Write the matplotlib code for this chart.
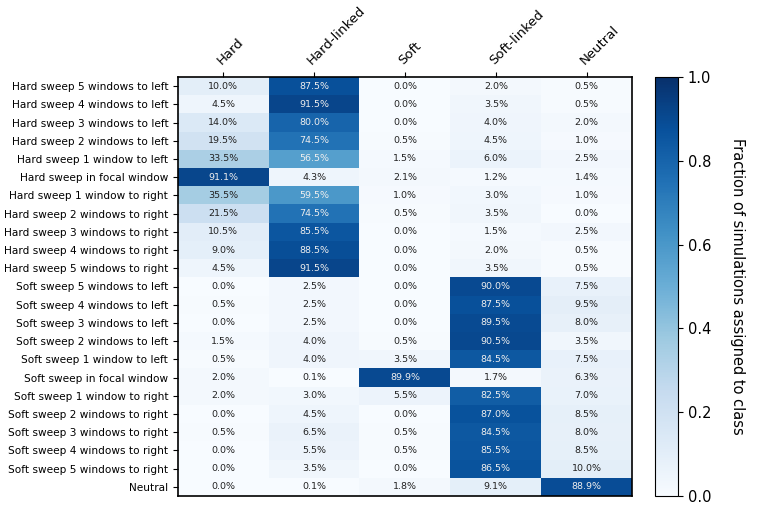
import matplotlib
matplotlib.use("Agg")
import matplotlib.pyplot as plt
import numpy as np

row_labels = [
    "Hard sweep 5 windows to left", "Hard sweep 4 windows to left",
    "Hard sweep 3 windows to left", "Hard sweep 2 windows to left",
    "Hard sweep 1 window to left", "Hard sweep in focal window",
    "Hard sweep 1 window to right", "Hard sweep 2 windows to right",
    "Hard sweep 3 windows to right", "Hard sweep 4 windows to right",
    "Hard sweep 5 windows to right",
    "Soft sweep 5 windows to left", "Soft sweep 4 windows to left",
    "Soft sweep 3 windows to left", "Soft sweep 2 windows to left",
    "Soft sweep 1 window to left", "Soft sweep in focal window",
    "Soft sweep 1 window to right", "Soft sweep 2 windows to right",
    "Soft sweep 3 windows to right", "Soft sweep 4 windows to right",
    "Soft sweep 5 windows to right", "Neutral",
]
col_labels = ["Hard", "Hard-linked", "Soft", "Soft-linked", "Neutral"]

hard = [10.0, 4.5, 14.0, 19.5, 33.5, 91.1, 35.5, 21.5, 10.5, 9.0, 4.5,
        0.0, 0.5, 0.0, 1.5, 0.5, 2.0, 2.0, 0.0, 0.5, 0.0, 0.0, 0.0]
hard_linked = [87.5, 91.5, 80.0, 74.5, 56.5, 4.3, 59.5, 74.5, 85.5, 88.5, 91.5,
               2.5, 2.5, 2.5, 4.0, 4.0, 0.1, 3.0, 4.5, 6.5, 5.5, 3.5, 0.1]
soft = [0.0, 0.0, 0.0, 0.5, 1.5, 2.1, 1.0, 0.5, 0.0, 0.0, 0.0,
        0.0, 0.0, 0.0, 0.5, 3.5, 89.9, 5.5, 0.0, 0.5, 0.5, 0.0, 1.8]
soft_linked = [2.0, 3.5, 4.0, 4.5, 6.0, 1.2, 3.0, 3.5, 1.5, 2.0, 3.5,
               90.0, 87.5, 89.5, 90.5, 84.5, 1.7, 82.5, 87.0, 84.5, 85.5, 86.5, 9.1]
neutral = [0.5, 0.5, 2.0, 1.0, 2.5, 1.4, 1.0, 0.0, 2.5, 0.5, 0.5,
           7.5, 9.5, 8.0, 3.5, 7.5, 6.3, 7.0, 8.5, 8.0, 8.5, 10.0, 88.9]

data = np.array([hard, hard_linked, soft, soft_linked, neutral]).T / 100.0

fig = plt.figure(figsize=(7.57, 5.16), dpi=100)
ax = fig.add_axes([178/757, 1 - 496/516, (632-178)/757, (496-77)/516])
cax = fig.add_axes([655/757, 1 - 496/516, (678-655)/757, (496-77)/516])

im = ax.imshow(data, cmap="Blues", vmin=0, vmax=1, aspect="auto",
               interpolation="nearest")
ax.xaxis.tick_top()
ax.set_xticks(range(len(col_labels)))
ax.set_xticklabels(col_labels, rotation=45, ha="left", rotation_mode="anchor",
                   fontsize=9.5)
ax.set_yticks(range(len(row_labels)))
ax.set_yticklabels(row_labels, fontsize=7.6)
ax.tick_params(length=3.5)
for s in ax.spines.values():
    s.set_linewidth(1.2)

for i in range(data.shape[0]):
    for j in range(data.shape[1]):
        v = data[i, j]
        ax.text(j, i, f"{v*100:.1f}%", ha="center", va="center", fontsize=6.8,
                color="#eeeeee" if v > 0.5 else "#222222")

cb = fig.colorbar(im, cax=cax)
cb.set_ticks([0, 0.2, 0.4, 0.6, 0.8, 1.0])
cb.ax.tick_params(labelsize=10.5)
cb.set_label("Fraction of simulations assigned to class", rotation=270,
             labelpad=24, fontsize=10.5)

fig.savefig("out.png", dpi=100)
